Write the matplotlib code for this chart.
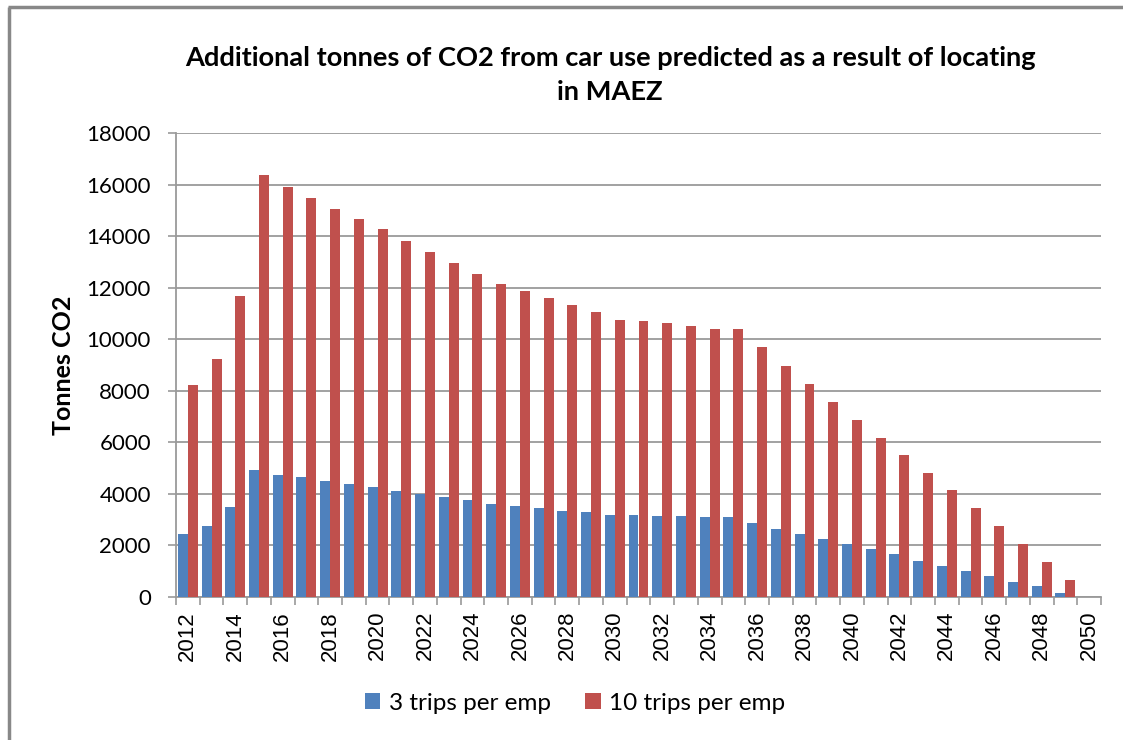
import numpy as np
import matplotlib
matplotlib.use("Agg")
import matplotlib.pyplot as plt
from matplotlib.lines import Line2D

years = list(range(2012, 2051))
trips3 = [2460, 2760, 3510, 4910, 4750, 4650, 4500, 4400, 4250, 4100,
          4000, 3860, 3760, 3590, 3540, 3450, 3350, 3290, 3190, 3190,
          3140, 3140, 3090, 3090, 2890, 2650, 2450, 2250, 2050, 1850,
          1650, 1410, 1210, 1000, 810, 600, 410, 160, 0]
trips10 = [8240, 9235, 11670, 16360, 15900, 15460, 15060, 14660, 14260, 13820,
           13370, 12960, 12520, 12160, 11860, 11580, 11320, 11070, 10760, 10720,
           10620, 10520, 10410, 10380, 9680, 8980, 8280, 7580, 6880, 6180,
           5490, 4800, 4150, 3450, 2750, 2050, 1350, 650, 0]
series_names = ["3 trips per emp", "10 trips per emp"]
title = "Additional tonnes of CO2 from car use predicted as a result of locating\nin MAEZ"

blue = "#4F81BD"
red = "#C0504D"
grey = "#9a9a9a"

fig = plt.figure(figsize=(11.23, 7.4), dpi=100)
ax = fig.add_axes([176 / 1123, 1 - 597 / 740, (1101 - 176) / 1123, (597 - 133) / 740])

x = np.arange(len(years))
w = 0.42
ax.bar(x - w / 2, trips3, w, color=blue, label=series_names[0], zorder=3)
ax.bar(x + w / 2, trips10, w, color=red, label=series_names[1], zorder=3)

ax.set_xlim(-0.5, len(years) - 0.5)
ax.set_ylim(0, 18000)
ax.set_yticks(range(0, 18001, 2000))
ax.yaxis.grid(True, color=grey, linewidth=1.3, zorder=0)
ax.tick_params(axis='y', length=6, color=grey, width=1.2, pad=12, labelsize=16)
for lab in ax.get_yticklabels():
    lab.set_family("Lato")

# tick marks at category edges, labels every other year
ax.set_xticks(np.arange(-0.5, len(years), 1.0))
ax.set_xticklabels([])
ax.tick_params(axis='x', which='major', length=6, color=grey, width=1.2, direction='out')
ax.set_xticks(x[::2], minor=True)
ax.set_xticklabels([str(y) for y in years[::2]], minor=True, rotation=90,
                   fontsize=16, family="Liberation Sans")
ax.tick_params(axis='x', which='minor', length=0, pad=10)

for s in ["top", "right"]:
    ax.spines[s].set_visible(False)
ax.spines["left"].set_color(grey)
ax.spines["bottom"].set_color(grey)
ax.spines["left"].set_linewidth(1.3)
ax.spines["bottom"].set_linewidth(1.3)

ax.set_ylabel("Tonnes CO2", fontsize=18, fontweight="bold", family="Lato", labelpad=8)
fig.text(610 / 1123, 1 - 75 / 740, title, ha="center", va="center", fontsize=19.6,
         fontweight="bold", family="Lato", linespacing=1.55)

fig.legend(loc="center", bbox_to_anchor=(575 / 1123, 1 - 703 / 740), ncol=2, frameon=False,
           prop={"family": "Lato", "size": 17.5}, handlelength=0.65, handleheight=0.65,
           handletextpad=0.35, columnspacing=1.4)

# chart area border (left and top edges visible)
fig.lines.append(Line2D([9 / 1123, 9 / 1123], [0, 1 - 7 / 740], transform=fig.transFigure,
                        color="#888888", linewidth=2.5, solid_capstyle="butt"))
fig.lines.append(Line2D([8 / 1123, 1], [1 - 7 / 740, 1 - 7 / 740], transform=fig.transFigure,
                        color="#888888", linewidth=2.5, solid_capstyle="butt"))

fig.savefig("out.png", dpi=100)
